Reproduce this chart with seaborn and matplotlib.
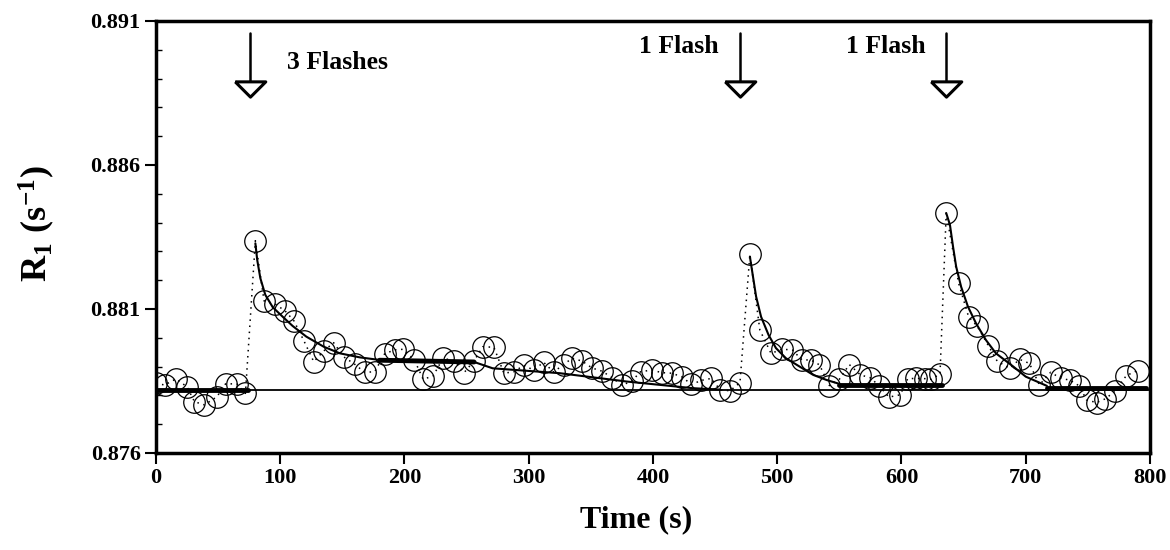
import matplotlib
matplotlib.use('Agg')
import matplotlib.pyplot as plt
import seaborn as sns
import pandas as pd
from matplotlib.ticker import MultipleLocator, FormatStrFormatter

# measured relaxation rate R1 (s^-1) vs time (s)
time_s = [0, 7, 16, 25, 31, 39, 49, 56, 65, 72,
          80, 87, 96, 104, 111, 119, 127, 135, 143, 151,
          160, 168, 176, 184, 192, 199, 208, 215, 223, 231,
          240, 248, 256, 263, 272, 280, 288, 296, 304, 312,
          320, 328, 335, 343, 351, 359, 367, 375, 383, 390,
          399, 407, 415, 423, 431, 439, 447, 454, 462, 470,
          478, 486, 495, 504, 512, 520, 527, 534, 542, 550,
          558, 567, 575, 582, 590, 599, 605, 612, 619, 624,
          631, 636, 646, 654, 661, 670, 677, 687, 695, 703,
          711, 720, 728, 736, 743, 749, 757, 764, 772, 781,
          790]
r1 = [0.87842, 0.87836, 0.87857, 0.87830, 0.87778, 0.87767, 0.87795, 0.87840, 0.87840, 0.87807,
      0.88337, 0.88128, 0.88117, 0.88093, 0.88059, 0.87990, 0.87917, 0.87954, 0.87983, 0.87934,
      0.87908, 0.87880, 0.87882, 0.87944, 0.87958, 0.87960, 0.87923, 0.87856, 0.87867, 0.87929,
      0.87920, 0.87879, 0.87920, 0.87969, 0.87967, 0.87877, 0.87882, 0.87904, 0.87888, 0.87915,
      0.87881, 0.87907, 0.87929, 0.87919, 0.87895, 0.87884, 0.87862, 0.87835, 0.87850, 0.87882,
      0.87888, 0.87879, 0.87877, 0.87865, 0.87838, 0.87852, 0.87859, 0.87819, 0.87816, 0.87844,
      0.88290, 0.88027, 0.87946, 0.87960, 0.87958, 0.87923, 0.87923, 0.87906, 0.87834, 0.87856,
      0.87907, 0.87871, 0.87861, 0.87833, 0.87794, 0.87802, 0.87858, 0.87859, 0.87858, 0.87856,
      0.87874, 0.88433, 0.88189, 0.88073, 0.88040, 0.87972, 0.87919, 0.87894, 0.87925, 0.87911,
      0.87836, 0.87880, 0.87860, 0.87852, 0.87833, 0.87784, 0.87775, 0.87788, 0.87815, 0.87869,
      0.87886]

# fitted recovery curves
fit1_t = [80, 81.5, 84, 88, 94, 102, 110, 121, 135, 148, 164, 180, 256, 271, 325, 379, 432, 454]
fit1_r = [0.88328, 0.88270, 0.88207, 0.88149, 0.88106, 0.88073, 0.88041, 0.88004, 0.87969,
          0.87946, 0.87932, 0.87923, 0.87916, 0.87894, 0.87877, 0.87848, 0.87825, 0.87820]
fit2_t = [478, 480.5, 483, 487, 493, 499, 507, 518, 529, 540, 550]
fit2_r = [0.88282, 0.88212, 0.88143, 0.88073, 0.88010, 0.87964, 0.87929, 0.87900, 0.87871,
          0.87853, 0.87840]
fit3_t = [636, 639, 641.5, 644, 648, 653.5, 660, 668, 676, 690, 700, 717]
fit3_r = [0.88433, 0.88392, 0.88316, 0.88247, 0.88177, 0.88108, 0.88050, 0.87992, 0.87946,
          0.87900, 0.87865, 0.87833]

# thick plateau segments (start, end, level)
plateau_t = [(0, 74), (180, 256), (550, 633), (717, 797)]
plateau_r = [(0.87820, 0.87820), (0.87922, 0.87916), (0.87835, 0.87835), (0.87826, 0.87826)]

baseline_t = [0, 800]
baseline_r = [0.87820, 0.87820]

flash_t = [75.6, 470, 636]
flash_labels = ['3 Flashes', '1 Flash', '1 Flash']

sns.set_style('ticks')
plt.rcParams['font.family'] = ['Liberation Serif', 'DejaVu Serif']
plt.rcParams['font.weight'] = 'bold'
plt.rcParams['text.color'] = 'black'
plt.rcParams['axes.labelcolor'] = 'black'
plt.rcParams['xtick.color'] = 'black'
plt.rcParams['ytick.color'] = 'black'
plt.rcParams['mathtext.fontset'] = 'custom'
plt.rcParams['mathtext.rm'] = 'Liberation Serif:bold'
plt.rcParams['mathtext.bf'] = 'Liberation Serif:bold'
plt.rcParams['mathtext.it'] = 'Liberation Serif:bold'

fig = plt.figure(figsize=(11.7, 5.5), dpi=100)
ax = fig.add_axes([0.1333, 0.1764, 0.8496, 0.7855])

sns.lineplot(x=baseline_t, y=baseline_r, ax=ax, color='black', lw=1.3)
for (ta, tb), (ra, rb) in zip(plateau_t, plateau_r):
    sns.lineplot(x=[ta, tb], y=[ra, rb], ax=ax, color='black', lw=3.5)
for ft, fr in [(fit1_t, fit1_r), (fit2_t, fit2_r), (fit3_t, fit3_r)]:
    sns.lineplot(x=ft, y=fr, ax=ax, color='black', lw=1.5, estimator=None, sort=False)

df = pd.DataFrame({'t': time_s, 'r': r1})
sns.lineplot(data=df, x='t', y='r', ax=ax, estimator=None, sort=False,
             color='black', lw=1.1, linestyle=(0, (1, 3)),
             marker='o', markersize=15.5, markerfacecolor='none',
             markeredgecolor='black', markeredgewidth=0.9)

# flash arrows with hollow heads
head = [(-1, 0.5), (1, 0.5), (0, -0.5), (-1, 0.5)]
trans = ax.get_xaxis_transform()
for t, lab in zip(flash_t, flash_labels):
    ax.plot([t, t], [0.972, 0.862], color='black', lw=1.8, transform=trans)
    ax.plot([t], [0.842], marker=head, markersize=22, markerfacecolor='white',
            markeredgecolor='black', markeredgewidth=2.2, transform=trans)
    if lab.startswith('3'):
        ax.annotate(lab, xy=(t, 0.903), xycoords=trans, xytext=(27, 0),
                    textcoords='offset points', ha='left', va='center',
                    fontsize=18.5, fontweight='bold', color='black')
    else:
        ax.annotate(lab, xy=(t, 0.940), xycoords=trans, xytext=(-15, 0),
                    textcoords='offset points', ha='right', va='center',
                    fontsize=18.5, fontweight='bold', color='black')

ax.set_xlim(0, 800)
ax.set_ylim(0.876, 0.891)
ax.set_xticks(range(0, 801, 100))
ax.set_yticks([0.876, 0.881, 0.886, 0.891])
ax.yaxis.set_minor_locator(MultipleLocator(0.001))
ax.yaxis.set_major_formatter(FormatStrFormatter('%.3f'))
ax.tick_params(which='major', direction='out', length=8, width=1.5,
               labelsize=16, pad=3, color='black', labelcolor='black')
ax.tick_params(axis='y', which='minor', direction='in', length=4, width=1, color='black')
for sp in ax.spines.values():
    sp.set_linewidth(2.5)
    sp.set_color('black')

ax.set_xlabel('Time (s)', fontsize=23, fontweight='bold', color='black')
ax.set_ylabel(r'$\mathbf{R_1\ (s^{-1})}$', fontsize=26, color='black')
ax.xaxis.set_label_coords(0.483, -0.12)
ax.yaxis.set_label_coords(-0.1, 0.53)

fig.savefig('out.png', dpi=100)
